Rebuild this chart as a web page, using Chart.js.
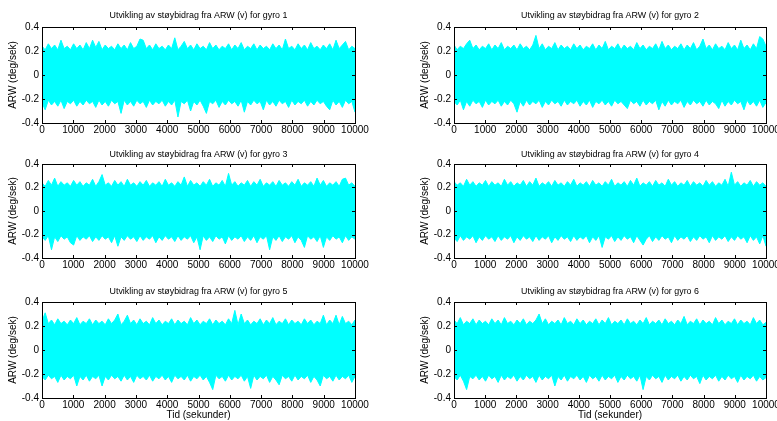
<!DOCTYPE html>
<html>
<head>
<meta charset="utf-8">
<script src="https://cdn.jsdelivr.net/npm/chart.js@4/dist/chart.umd.min.js"></script>
<style>
  html, body { margin: 0; padding: 0; background: #fff; overflow: hidden; width: 777px; height: 421px; }
  .cell { position: absolute; }
</style>
</head>
<body>
<div id="wrap"></div>
<script>
// tick labels
const xTicks = [0, 1000, 2000, 3000, 4000, 5000, 6000, 7000, 8000, 9000, 10000];
const yTicks = [-0.4, -0.2, 0, 0.2, 0.4];

// envelope of each gyro signal (max / min per time bin, deg/sek)
const upper1 = [.24,.21,.26,.22,.25,.21,.29,.22,.24,.21, .26,.22,.25,.21,.27,.22,.29,.23,.28,.21,
  .25,.22,.24,.21,.26,.22,.25,.21,.27,.22, .24,.30,.29,.22,.25,.21,.26,.22,.24,.21,
  .25,.22,.31,.21,.24,.28,.22,.25,.21,.26, .22,.24,.21,.27,.22,.25,.21,.24,.22,.26,
  .21,.25,.22,.27,.21,.24,.22,.26,.21,.25, .22,.24,.21,.26,.22,.25,.21,.30,.22,.24,
  .21,.26,.22,.25,.21,.27,.22,.24,.21,.25, .22,.26,.21,.29,.22,.25,.28,.21,.24,.22];
const lower1 = [-.23,-.29,-.21,-.25,-.22,-.26,-.21,-.28,-.22,-.24, -.21,-.26,-.22,-.25,-.21,-.24,-.22,-.27,-.21,-.25,
  -.22,-.26,-.21,-.24,-.22,-.32,-.21,-.25,-.22,-.26, -.21,-.24,-.22,-.27,-.21,-.25,-.22,-.24,-.21,-.26,
  -.22,-.25,-.21,-.35,-.22,-.24,-.21,-.30,-.22,-.25, -.21,-.26,-.32,-.22,-.24,-.21,-.27,-.22,-.25,-.21,
  -.24,-.22,-.26,-.21,-.31,-.22,-.25,-.21,-.24,-.22, -.29,-.21,-.25,-.22,-.26,-.21,-.24,-.22,-.27,-.21,
  -.25,-.22,-.24,-.21,-.26,-.22,-.25,-.21,-.24,-.22, -.26,-.29,-.21,-.25,-.22,-.27,-.21,-.24,-.22,-.31];

const upper2 = [.25,.21,.24,.22,.26,.29,.22,.25,.21,.24, .22,.26,.21,.25,.22,.27,.21,.24,.22,.25,
  .21,.26,.22,.24,.21,.25,.33,.22,.26,.21, .24,.22,.27,.21,.25,.22,.24,.21,.26,.22,
  .25,.21,.24,.22,.26,.21,.25,.22,.28,.21, .24,.22,.26,.21,.25,.22,.24,.21,.27,.22,
  .25,.21,.24,.22,.26,.21,.28,.22,.25,.21, .24,.22,.26,.21,.25,.22,.27,.21,.24,.30,
  .22,.25,.21,.26,.22,.24,.21,.27,.22,.25, .21,.29,.22,.25,.21,.26,.22,.32,.30,.24];
const lower2 = [-.22,-.25,-.21,-.29,-.22,-.26,-.21,-.24,-.22,-.27, -.21,-.25,-.22,-.24,-.21,-.26,-.22,-.25,-.21,-.24,
  -.31,-.22,-.26,-.21,-.25,-.22,-.24,-.21,-.27,-.22, -.25,-.21,-.24,-.22,-.26,-.21,-.25,-.22,-.24,-.21,
  -.26,-.22,-.25,-.21,-.27,-.22,-.24,-.21,-.25,-.22, -.26,-.21,-.24,-.22,-.25,-.28,-.21,-.24,-.22,-.26,
  -.21,-.25,-.22,-.24,-.21,-.29,-.22,-.26,-.21,-.25, -.22,-.24,-.21,-.27,-.22,-.25,-.21,-.24,-.22,-.26,
  -.21,-.25,-.22,-.24,-.28,-.21,-.26,-.22,-.25,-.21, -.24,-.22,-.29,-.21,-.25,-.22,-.26,-.21,-.27,-.23];

const upper3 = [.24,.21,.26,.22,.28,.21,.25,.22,.24,.21, .26,.22,.25,.21,.24,.22,.27,.21,.25,.31,
  .22,.24,.21,.26,.22,.25,.21,.27,.22,.24, .21,.25,.22,.26,.21,.24,.22,.25,.21,.27,
  .22,.24,.21,.25,.22,.29,.21,.26,.22,.24, .21,.25,.22,.27,.21,.24,.22,.26,.21,.32,
  .22,.25,.21,.24,.22,.26,.21,.25,.22,.27, .21,.24,.22,.25,.21,.26,.22,.24,.21,.25,
  .22,.27,.21,.24,.22,.25,.21,.28,.22,.26, .21,.24,.22,.25,.21,.27,.28,.22,.24,.21];
const lower3 = [-.22,-.25,-.21,-.33,-.22,-.26,-.21,-.24,-.22,-.27, -.29,-.21,-.25,-.22,-.24,-.21,-.26,-.22,-.25,-.21,
  -.24,-.22,-.27,-.21,-.30,-.22,-.25,-.21,-.24,-.22, -.26,-.21,-.25,-.22,-.24,-.21,-.27,-.22,-.25,-.21,
  -.24,-.22,-.26,-.21,-.25,-.22,-.24,-.21,-.27,-.22, -.33,-.21,-.25,-.22,-.26,-.21,-.24,-.22,-.28,-.21,
  -.25,-.22,-.24,-.21,-.26,-.22,-.25,-.21,-.27,-.22, -.24,-.21,-.33,-.22,-.25,-.21,-.26,-.22,-.24,-.21,
  -.27,-.22,-.25,-.31,-.21,-.24,-.22,-.26,-.21,-.31, -.22,-.25,-.21,-.24,-.22,-.27,-.21,-.25,-.22,-.24];

const upper4 = [.25,.22,.24,.21,.27,.22,.25,.21,.24,.22, .26,.21,.25,.22,.24,.21,.27,.22,.25,.21,
  .24,.22,.26,.21,.25,.22,.28,.21,.24,.22, .25,.21,.26,.22,.24,.21,.25,.22,.27,.21,
  .24,.22,.25,.21,.26,.22,.24,.21,.25,.22, .27,.21,.24,.22,.25,.21,.26,.22,.28,.21,
  .24,.22,.25,.21,.26,.22,.24,.21,.27,.22, .25,.21,.24,.22,.26,.21,.25,.22,.24,.21,
  .26,.22,.25,.21,.24,.22,.27,.21,.33,.22, .25,.21,.24,.22,.26,.21,.25,.22,.24,.21];
const lower4 = [-.23,-.26,-.21,-.25,-.22,-.24,-.21,-.27,-.22,-.25, -.21,-.24,-.22,-.26,-.21,-.25,-.22,-.24,-.21,-.27,
  -.22,-.25,-.21,-.24,-.22,-.26,-.21,-.25,-.22,-.24, -.21,-.27,-.22,-.25,-.21,-.24,-.22,-.26,-.21,-.25,
  -.22,-.24,-.21,-.27,-.22,-.25,-.21,-.31,-.22,-.24, -.21,-.26,-.22,-.25,-.21,-.24,-.22,-.27,-.21,-.25,
  -.29,-.24,-.21,-.26,-.22,-.25,-.21,-.24,-.22,-.27, -.21,-.25,-.22,-.24,-.21,-.26,-.22,-.25,-.21,-.24,
  -.22,-.27,-.21,-.25,-.22,-.24,-.21,-.26,-.22,-.25, -.21,-.24,-.22,-.27,-.21,-.25,-.22,-.28,-.21,-.30];

const upper5 = [.24,.31,.22,.25,.21,.26,.22,.24,.21,.25, .22,.27,.21,.24,.22,.26,.21,.25,.22,.24,
  .21,.26,.22,.25,.30,.21,.24,.29,.22,.25, .21,.26,.22,.24,.21,.27,.22,.25,.21,.24,
  .22,.26,.21,.25,.22,.24,.21,.27,.22,.25, .21,.24,.22,.26,.21,.25,.22,.24,.21,.26,
  .22,.33,.21,.30,.22,.25,.21,.24,.22,.26, .21,.25,.22,.27,.21,.24,.22,.26,.21,.25,
  .22,.24,.21,.26,.22,.25,.21,.24,.22,.29, .21,.25,.22,.29,.21,.28,.22,.24,.21,.25];
const lower5 = [-.22,-.25,-.21,-.24,-.22,-.27,-.21,-.25,-.22,-.24, -.21,-.30,-.22,-.25,-.21,-.26,-.22,-.24,-.21,-.30,
  -.22,-.25,-.21,-.24,-.22,-.26,-.21,-.25,-.22,-.27, -.21,-.24,-.22,-.25,-.21,-.26,-.22,-.24,-.21,-.25,
  -.22,-.27,-.21,-.24,-.22,-.25,-.21,-.26,-.22,-.24, -.21,-.25,-.22,-.27,-.33,-.21,-.24,-.22,-.26,-.21,
  -.25,-.22,-.24,-.21,-.26,-.22,-.32,-.21,-.25,-.22, -.24,-.21,-.27,-.22,-.25,-.29,-.21,-.24,-.22,-.26,
  -.21,-.25,-.22,-.24,-.21,-.27,-.22,-.25,-.30,-.21, -.24,-.22,-.26,-.21,-.25,-.22,-.24,-.21,-.27,-.22];

const upper6 = [.25,.22,.27,.21,.24,.22,.26,.21,.25,.22, .24,.21,.26,.22,.25,.21,.27,.22,.24,.21,
  .25,.22,.26,.21,.24,.22,.25,.30,.22,.26, .21,.24,.22,.25,.21,.27,.22,.24,.21,.26,
  .22,.25,.21,.24,.22,.26,.21,.25,.22,.27, .21,.24,.22,.25,.21,.26,.22,.24,.21,.25,
  .22,.27,.21,.24,.22,.25,.21,.26,.22,.24, .21,.25,.22,.28,.21,.24,.22,.26,.21,.25,
  .22,.24,.21,.27,.22,.25,.21,.24,.22,.26, .21,.25,.22,.24,.21,.27,.22,.25,.21,.23];
const lower6 = [-.22,-.25,-.21,-.26,-.33,-.22,-.24,-.21,-.25,-.22, -.26,-.21,-.24,-.22,-.27,-.21,-.25,-.22,-.24,-.21,
  -.26,-.22,-.25,-.21,-.24,-.22,-.27,-.21,-.25,-.22, -.24,-.21,-.30,-.22,-.25,-.21,-.26,-.22,-.24,-.21,
  -.25,-.22,-.27,-.21,-.24,-.22,-.26,-.21,-.25,-.22, -.24,-.21,-.27,-.22,-.25,-.21,-.24,-.22,-.26,-.21,
  -.33,-.22,-.25,-.21,-.24,-.22,-.27,-.21,-.25,-.22, -.24,-.21,-.26,-.22,-.25,-.21,-.24,-.22,-.28,-.21,
  -.25,-.22,-.24,-.21,-.26,-.22,-.25,-.21,-.24,-.22, -.27,-.21,-.25,-.22,-.24,-.21,-.26,-.22,-.25,-.23];

const uppers = [upper1, upper2, upper3, upper4, upper5, upper6];
const lowers = [lower1, lower2, lower3, lower4, lower5, lower6];

// sample times of the bins, evenly over 0..10000 s
const tid = upper1.map((_, i) => i * 10000 / (upper1.length - 1));

const fontFamily = 'Liberation Sans, Arial, Helvetica, sans-serif';
Chart.defaults.font.family = fontFamily;
Chart.defaults.font.size = 10;
Chart.defaults.color = '#000';

// box + inward tick marks + title centred over the axes, matlab style
const boxPlugin = {
  id: 'box',
  afterDatasetsDraw(chart, args, opts) {
    const { ctx, chartArea: a, scales } = chart;
    ctx.save();
    ctx.strokeStyle = '#000';
    ctx.lineWidth = 1;
    ctx.beginPath();
    scales.x.ticks.forEach(t => {
      const px = Math.round(scales.x.getPixelForValue(t.value)) + 0.5;
      ctx.moveTo(px, a.bottom); ctx.lineTo(px, a.bottom - 3);
      ctx.moveTo(px, a.top); ctx.lineTo(px, a.top + 3);
    });
    scales.y.ticks.forEach(t => {
      const py = Math.round(scales.y.getPixelForValue(t.value)) + 0.5;
      ctx.moveTo(a.left, py); ctx.lineTo(a.left + 3, py);
      ctx.moveTo(a.right, py); ctx.lineTo(a.right - 3, py);
    });
    ctx.stroke();
    ctx.strokeRect(Math.round(a.left) + 0.5, Math.round(a.top) + 0.5,
      Math.round(a.right - a.left), Math.round(a.bottom - a.top));

    ctx.fillStyle = '#000';
    ctx.font = opts.size + 'px ' + fontFamily;
    ctx.textAlign = 'center';
    ctx.textBaseline = 'middle';
    ctx.fillText(opts.text, (a.left + a.right) / 2, opts.y);
    ctx.restore();
  }
};

const rows = [
  { top: 0, h: 140, titleY: 16, areaTop: 27, areaBottom: 123 },
  { top: 140, h: 140, titleY: 155, areaTop: 164, areaBottom: 258 },
  { top: 280, h: 141, titleY: 292, areaTop: 302, areaBottom: 398 }
];
const cols = [
  { left: 0, w: 390, areaLeft: 42, areaRight: 355 },
  { left: 412, w: 388, areaLeft: 454, areaRight: 766 }
];

const wrap = document.getElementById('wrap');
for (let g = 0; g < 6; g++) {
  const r = rows[Math.floor(g / 2)];
  const c = cols[g % 2];
  const div = document.createElement('div');
  div.className = 'cell';
  div.style.left = c.left + 'px';
  div.style.top = r.top + 'px';
  const cv = document.createElement('canvas');
  cv.width = c.w; cv.height = r.h;
  cv.style.width = c.w + 'px'; cv.style.height = r.h + 'px';
  div.appendChild(cv);
  wrap.appendChild(div);

  const bottomRow = g >= 4;

  new Chart(cv, {
    type: 'line',
    data: {
      datasets: [
        {
          data: tid.map((t, i) => ({ x: t, y: uppers[g][i] })),
          borderColor: '#00ffff', backgroundColor: '#00ffff',
          borderWidth: 1, pointRadius: 0, tension: 0, fill: '+1'
        },
        {
          data: tid.map((t, i) => ({ x: t, y: lowers[g][i] })),
          borderColor: '#00ffff', backgroundColor: '#00ffff',
          borderWidth: 1, pointRadius: 0, tension: 0, fill: false
        }
      ]
    },
    options: {
      responsive: false,
      animation: false,
      devicePixelRatio: 1,
      layout: { padding: { left: 0, right: c.left + c.w - c.areaRight, top: r.areaTop - r.top, bottom: 0 } },
      plugins: {
        legend: { display: false },
        tooltip: { enabled: false },
        title: { display: false },
        box: {
          text: 'Utvikling av støybidrag fra ARW (v) for gyro ' + (g + 1),
          size: 8.9,
          y: r.titleY - r.top
        }
      },
      scales: {
        x: {
          type: 'linear', min: 0, max: 10000,
          grid: { display: false, drawTicks: false },
          border: { display: false },
          afterBuildTicks: s => { s.ticks = xTicks.map(v => ({ value: v })); },
          ticks: { padding: 1, maxRotation: 0, autoSkip: false, callback: v => String(v) },
          title: { display: bottomRow, text: 'Tid (sekunder)', padding: { top: 0, bottom: 0 } },
          afterFit: s => { s.height = r.top + r.h - r.areaBottom; }
        },
        y: {
          min: -0.4, max: 0.4,
          grid: { display: false, drawTicks: false },
          border: { display: false },
          afterBuildTicks: s => { s.ticks = yTicks.map(v => ({ value: v })); },
          ticks: { padding: 3, callback: v => String(Math.round(v * 10) / 10) },
          title: { display: true, text: 'ARW (deg/sek)', padding: { top: 7, bottom: 0 } },
          afterFit: s => { s.width = c.areaLeft - c.left; }
        }
      }
    },
    plugins: [boxPlugin]
  });
}
</script>
</body>
</html>
